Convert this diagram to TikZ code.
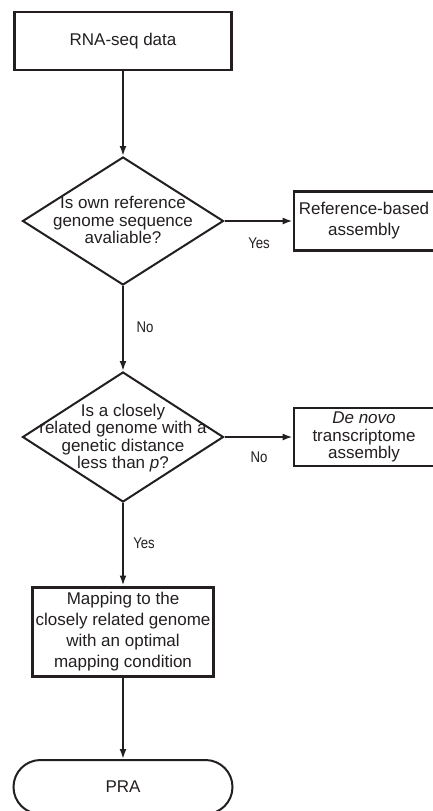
\documentclass[tikz,border=0pt]{standalone}
\usepackage{fontspec}
\setmainfont{Liberation Sans}
\newfontfamily\lblfont[FakeStretch=0.85]{Liberation Sans}
\usetikzlibrary{shapes.geometric,shapes.misc,arrows.meta}
\definecolor{ink}{HTML}{231F20}
\begin{document}
\begin{tikzpicture}[x=1pt,y=-1pt,
  every node/.style={font=\fontsize{17}{18}\selectfont, text=ink},
  box/.style={draw=ink, line width=2.6pt, rectangle, inner sep=0pt, align=center},
  dia/.style={draw=ink, line width=2pt, diamond, inner sep=0pt},
  diatext/.style={align=center, inner sep=0pt, font=\fontsize{17}{17.5}\selectfont},
  term/.style={draw=ink, line width=2pt, rounded rectangle, inner sep=0pt},
  arr/.style={draw=ink, line width=2pt, -{Latex[length=10pt,width=7pt]}},
  lbl/.style={inner sep=0pt, font=\lblfont\fontsize{15.5}{17}\selectfont}]
\useasboundingbox (0,0) rectangle (432,811);
\fill[white] (0,0) rectangle (432,811);

\node[box, minimum width=217pt, minimum height=58pt] (start) at (123,41) {RNA-seq data};

\node[dia, minimum width=201pt, minimum height=128pt] (q1) at (123,221) {};
\node[diatext] (q1t) at (123,220) {Is own reference\\genome sequence\\avaliable?};

\node[box, minimum width=140pt, minimum height=59pt, font=\fontsize{17}{21}\selectfont] (ref) at (364,221) {Reference-based\\assembly};

\node[dia, minimum width=201pt, minimum height=130pt] (q2) at (123,437) {};
\node[diatext] (q2t) at (123,438) {Is a closely\\related genome with a\\genetic distance\\less than \textit{p}?};

\node[box, minimum width=140pt, minimum height=58pt, font=\fontsize{17}{17.5}\selectfont] (denovo) at (364,437) {\textit{De novo}\\transcriptome\\assembly};

\node[box, line width=3pt, minimum width=181pt, minimum height=89pt, font=\fontsize{17}{21}\selectfont] (map) at (123,631.5) {Mapping to the\\closely related genome\\with an optimal\\mapping condition};

\node[term, minimum width=219pt, minimum height=54pt] (pra) at (123,787) {PRA};

\draw[arr] (start.south) -- (q1.north);
\draw[arr] (q1.east) -- (ref.west);
\draw[arr] (q1.south) -- (q2.north);
\draw[arr] (q2.east) -- (denovo.west);
\draw[arr] (q2.south) -- (map.north);
\draw[arr] (map.south) -- (pra.north);

\node[lbl] (yes1) at (259,243) {Yes};
\node[lbl] (no1) at (145,327) {No};
\node[lbl] (no2) at (259,457) {No};
\node[lbl] (yes2) at (144,543) {Yes};
\end{tikzpicture}
\end{document}
